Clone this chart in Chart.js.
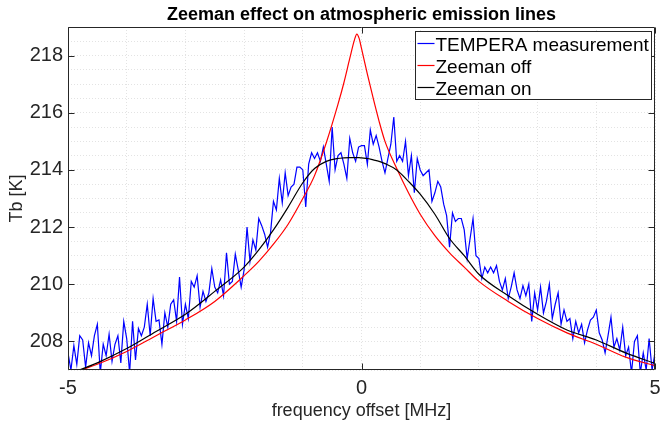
<!DOCTYPE html>
<html><head><meta charset="utf-8">
<script src="https://cdn.jsdelivr.net/npm/chart.js@4.4.1/dist/chart.umd.min.js"></script>
<style>html,body{margin:0;padding:0;background:#fff}#wrap{width:660px;height:426px}</style>
</head><body><div id="wrap"><canvas id="c" width="660" height="426"></canvas></div>
<script>
const titleText = 'Zeeman effect on atmospheric emission lines';
const xTitle = 'frequency offset [MHz]';
const yTitle = 'Tb [K]';
const seriesNames = ['TEMPERA measurement', 'Zeeman off', 'Zeeman on'];
const seriesColors = ['#0000ff', '#ff0000', '#000000'];
const xTickLabels = [-5, 0, 5];
const yTickLabels = [208, 210, 212, 214, 216, 218];

const freqMeas = [
-5,-4.95,-4.9,-4.85,-4.8,-4.75,-4.7,-4.65,-4.6,-4.55,
-4.5,-4.45,-4.4,-4.35,-4.3,-4.25,-4.2,-4.15,-4.1,-4.05,
-4,-3.95,-3.9,-3.85,-3.8,-3.75,-3.7,-3.65,-3.6,-3.55,
-3.5,-3.45,-3.4,-3.35,-3.3,-3.25,-3.2,-3.15,-3.1,-3.05,
-3,-2.95,-2.9,-2.85,-2.8,-2.75,-2.7,-2.65,-2.6,-2.55,
-2.5,-2.45,-2.4,-2.35,-2.3,-2.25,-2.2,-2.15,-2.1,-2.05,
-2,-1.95,-1.9,-1.85,-1.8,-1.75,-1.7,-1.65,-1.6,-1.55,
-1.5,-1.45,-1.4,-1.35,-1.3,-1.25,-1.2,-1.15,-1.1,-1.05,
-1,-0.95,-0.9,-0.85,-0.8,-0.75,-0.7,-0.65,-0.6,-0.55,
-0.5,-0.45,-0.4,-0.35,-0.3,-0.25,-0.2,-0.15,-0.1,-0.05,
0,
0.05,0.1,0.15,0.2,0.25,0.3,0.35,0.4,0.45,0.5,
0.55,0.6,0.65,0.7,0.75,0.8,0.85,0.9,0.95,1,
1.05,1.1,1.15,1.2,1.25,1.3,1.35,1.4,1.45,1.5,
1.55,1.6,1.65,1.7,1.75,1.8,1.85,1.9,1.95,2,
2.05,2.1,2.15,2.2,2.25,2.3,2.35,2.4,2.45,2.5,
2.55,2.6,2.65,2.7,2.75,2.8,2.85,2.9,2.95,3,
3.05,3.1,3.15,3.2,3.25,3.3,3.35,3.4,3.45,3.5,
3.55,3.6,3.65,3.7,3.75,3.8,3.85,3.9,3.95,4,
4.05,4.1,4.15,4.2,4.25,4.3,4.35,4.4,4.45,4.5,
4.55,4.6,4.65,4.7,4.75,4.8,4.85,4.9,4.95,5
];
const tbMeas = [
207.6,207.0,207.85,207.2,208.2,208.05,207.1,207.95,207.5,208.2,
208.6,206.9,207.9,207.5,208.25,207.3,207.9,208.2,207.25,208.7,
208.1,206.9,208.7,207.35,208.45,208.2,208.5,209.3,208.2,209.5,
208.7,208.75,207.9,209.0,208.5,209.3,209.45,208.7,210.25,208.6,
209.3,208.8,210.1,209.9,210.3,209.2,209.75,209.4,209.7,210.55,
209.9,209.7,210.15,209.6,211.1,210.0,210.1,211.05,210.5,209.9,
210.5,212.0,210.8,211.55,211.2,212.3,212.05,211.75,211.3,211.8,
212.9,212.6,213.7,212.85,213.9,213.1,213.4,213.5,214.1,214.1,
214.0,212.7,214.2,214.6,214.4,214.6,214.3,214.8,214.2,213.6,
215.5,214.0,214.5,214.6,214.2,213.7,215.1,214.6,214.3,214.8,
214.85,
214.85,214.2,215.4,214.9,215.2,214.8,214.3,213.9,214.4,214.9,
215.85,214.3,214.5,214.3,215.0,213.8,214.5,213.2,214.4,214.0,
213.8,213.9,214.0,212.9,213.2,213.6,213.4,212.8,212.4,211.3,
212.5,212.2,212.3,212.3,211.9,210.9,211.6,212.3,211.0,210.9,
210.2,210.6,210.4,210.6,210.4,210.65,210.1,209.8,210.2,209.5,
209.9,210.4,209.8,209.5,209.95,209.6,210.0,208.7,209.7,209.1,
209.9,209.0,209.4,210.0,208.8,209.3,209.7,208.6,209.1,208.7,
208.8,208.1,208.7,208.3,208.6,207.95,208.4,208.75,208.85,209.1,
208.3,208.05,207.6,208.2,208.85,207.8,208.1,207.7,208.5,207.5,
207.8,206.9,208.0,208.2,206.9,207.6,207.0,208.1,207.0,207.6
];

const freqModel = [-5,-4.5,-4,-3.5,-3,-2.5,-2,-1.75,-1.5,-1.25,-1,-0.8,-0.6,-0.4,-0.3,-0.2,-0.12,-0.08,-0.04,0,0.1,0.2,0.3,0.4,0.6,0.8,1,1.25,1.5,1.75,2,2.5,3,3.5,4,4.5,5];
const tbZeemanOff = [206.85,207.2,207.65,208.2,208.75,209.4,210.3,210.8,211.4,212.1,213.0,213.8,214.95,216.3,217.05,217.9,218.55,218.75,218.6,218.25,217.35,216.5,215.7,215.0,214.05,213.2,212.45,211.7,211.1,210.6,210.1,209.4,208.8,208.3,207.9,207.45,207.15];
const tbZeemanOn = [206.85,207.25,207.75,208.35,208.95,209.75,210.6,211.2,211.9,212.7,213.55,214.05,214.3,214.4,214.42,214.43,214.43,214.43,214.43,214.42,214.4,214.35,214.3,214.22,214.0,213.6,213.15,212.45,211.6,211.0,210.35,209.6,208.95,208.4,208.05,207.6,207.23];

const FONT = '"Liberation Sans", Arial, Helvetica, sans-serif';
Chart.defaults.font.family = FONT;
Chart.defaults.color = '#262626';

const pts = (xs, ys) => xs.map((v, i) => ({x: v, y: ys[i]}));

const framePlugin = {
  id: 'frame',
  afterDatasetsDraw(chart) {
    const {ctx, chartArea: a, scales: {x, y}} = chart;
    ctx.save();
    // title
    ctx.fillStyle = '#000';
    ctx.font = 'bold 18px ' + FONT;
    ctx.textAlign = 'center';
    ctx.textBaseline = 'alphabetic';
    ctx.fillText(titleText, (a.left + a.right) / 2, 20);
    // box and inward ticks
    const L = Math.round(a.left) + 0.5, R = Math.round(a.right) - 0.5;
    const T = Math.round(a.top) + 0.5, B = Math.round(a.bottom) - 0.5;
    ctx.strokeStyle = '#262626';
    ctx.lineWidth = 1;
    ctx.beginPath();
    ctx.rect(L, T, R - L, B - T);
    xTickLabels.forEach(v => {
      const p = Math.round(x.getPixelForValue(v)) + 0.5;
      ctx.moveTo(p, B); ctx.lineTo(p, B - 6);
      ctx.moveTo(p, T); ctx.lineTo(p, T + 6);
    });
    yTickLabels.forEach(v => {
      const p = Math.round(y.getPixelForValue(v)) + 0.5;
      ctx.moveTo(L, p); ctx.lineTo(L + 6, p);
      ctx.moveTo(R, p); ctx.lineTo(R - 6, p);
    });
    ctx.stroke();
    // legend
    ctx.font = '19px ' + FONT;
    const tw = Math.max(...seriesNames.map(s => ctx.measureText(s).width));
    const bw = Math.round(20 + tw + 3), bh = 68;
    const bx = Math.round(a.right - 4 - bw) + 0.5, by = Math.round(a.top + 4) + 0.5;
    ctx.fillStyle = '#fff';
    ctx.fillRect(bx, by, bw, bh);
    ctx.strokeStyle = '#262626';
    ctx.strokeRect(bx, by, bw, bh);
    ctx.textAlign = 'left';
    ctx.textBaseline = 'alphabetic';
    seriesNames.forEach((s, i) => {
      const ly = by + 12 + i * 22;
      ctx.strokeStyle = seriesColors[i];
      ctx.lineWidth = 1.2;
      ctx.beginPath(); ctx.moveTo(bx + 2, ly); ctx.lineTo(bx + 19, ly); ctx.stroke();
      ctx.fillStyle = '#000';
      ctx.fillText(s, bx + 20, by + 19.5 + i * 22);
    });
    ctx.restore();
  }
};

new Chart(document.getElementById('c'), {
  type: 'scatter',
  data: {
    datasets: [
      {label: seriesNames[0], data: pts(freqMeas, tbMeas), showLine: true, borderColor: seriesColors[0], backgroundColor: seriesColors[0], borderWidth: 1.2, pointRadius: 0, tension: 0, clip: 0, order: 2},
      {label: seriesNames[1], data: pts(freqModel, tbZeemanOff), showLine: true, borderColor: seriesColors[1], backgroundColor: seriesColors[1], borderWidth: 1.2, pointRadius: 0, cubicInterpolationMode: 'monotone', clip: 0, order: 1},
      {label: seriesNames[2], data: pts(freqModel, tbZeemanOn), showLine: true, borderColor: seriesColors[2], backgroundColor: seriesColors[2], borderWidth: 1.2, pointRadius: 0, cubicInterpolationMode: 'monotone', clip: 0, order: 0}
    ]
  },
  options: {
    responsive: false,
    animation: false,
    devicePixelRatio: 1,
    layout: {padding: {top: 27, right: 0, left: 0, bottom: 0}},
    plugins: {legend: {display: false}, tooltip: {enabled: false}, title: {display: false}},
    scales: {
      x: {
        type: 'linear', min: -5, max: 5,
        afterFit: s => { s.height = 56; s.paddingRight = 5; s.paddingLeft = 0; },
        ticks: {
          stepSize: 1, autoSkip: false, maxRotation: 0, padding: 6,
          font: {size: 20}, color: '#262626',
          callback: v => xTickLabels.includes(v) ? String(v) : ''
        },
        grid: {color: 'rgba(0,0,0,0.11)', drawTicks: false, lineWidth: 1},
        border: {display: false, dash: [1, 2]},
        title: {display: true, text: xTitle, font: {size: 18}, color: '#262626', padding: {top: 0, bottom: 4}}
      },
      y: {
        type: 'linear', min: 207, max: 219,
        afterFit: s => { s.width = 68; },
        ticks: {
          stepSize: 0.5, autoSkip: false, padding: 5,
          font: {size: 20}, color: '#262626',
          callback: v => yTickLabels.some(t => Math.abs(t - v) < 1e-6) ? String(Math.round(v)) : ''
        },
        grid: {color: 'rgba(0,0,0,0.11)', drawTicks: false, lineWidth: 1},
        border: {display: false, dash: [1, 2]},
        title: {display: true, text: yTitle, font: {size: 18}, color: '#262626', padding: {top: 6, bottom: 0}}
      }
    }
  },
  plugins: [framePlugin]
});
</script>
</body></html>
